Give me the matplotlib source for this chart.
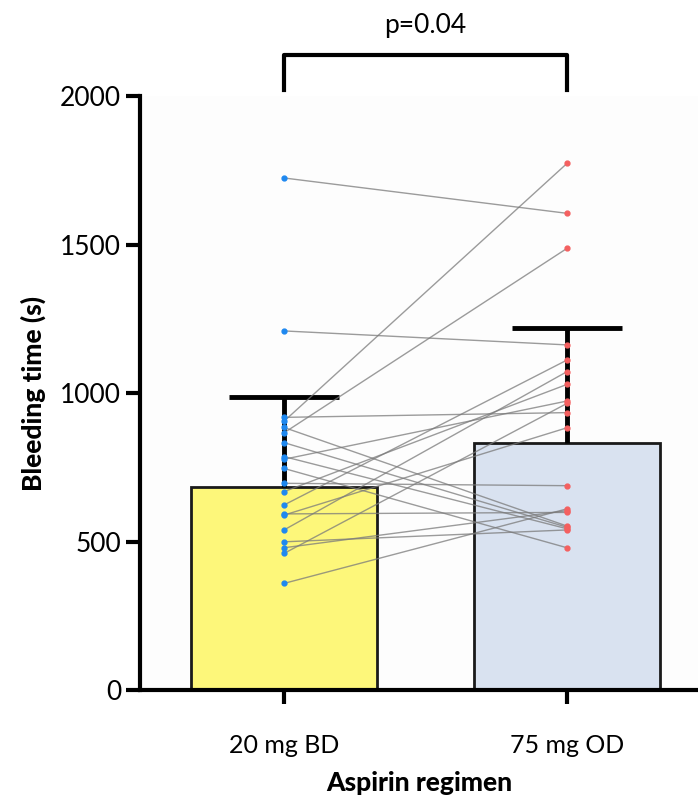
import numpy as np
import matplotlib.pyplot as plt

# veriler
gruplar = ["20 mg BD", "75 mg OD"]
ortalama = [683, 833]
ust_hata = [302, 387]

# eşleştirilmiş hasta değerleri (sol -> sağ)
doz_20 = [1724, 1209, 918, 905, 884, 866, 833, 786, 777, 746,
          696, 668, 623, 593, 589, 539, 499, 479, 460, 359]
doz_75 = [1605, 1162, 934, 1773, 552, 1487, 548, 543, 973, 479,
          688, 1029, 1111, 598, 883, 1072, 539, 604, 965, 610]

p_metni = "p=0.04"

plt.rcParams['font.family'] = ['Lato', 'DejaVu Sans']

fig = plt.figure(figsize=(6.98, 7.98), dpi=100)
ax = fig.add_axes([0.2006, 0.1353, 0.7994, 0.7444])
ax.set_facecolor("#fdfdfd")

x = np.arange(len(gruplar))
ax.bar(x, ortalama, width=0.66, color=["#fdf77a", "#d9e2f0"],
       edgecolor="#1a1a1a", linewidth=2, zorder=2)

# sadece yukarı hata çubukları
ust = np.array(ortalama) + np.array(ust_hata)
ax.vlines(x, ortalama, ust, color="black", linewidth=3.5, zorder=3)
ax.hlines(ust, x - 0.195, x + 0.195, color="black", linewidth=3.5, zorder=3)

for a, b in zip(doz_20, doz_75):
    ax.plot([0, 1], [a, b], color="#7a7a7a", linewidth=1.0, alpha=0.75, zorder=4)

ax.plot(np.zeros(len(doz_20)), doz_20, "o", color="#1e88f0", markersize=3.5, zorder=5)
ax.plot(np.ones(len(doz_75)), doz_75, "o", color="#f46060", markersize=3.5, zorder=5)

# anlamlılık parantezi
ax.plot([0, 0, 1, 1], [2020, 2138, 2138, 2020], color="black", linewidth=3,
        clip_on=False, zorder=6)
ax.text(0.5, 2195, p_metni, ha="center", va="bottom", fontsize=19)

ax.set_xlim(-0.509, 1.463)
ax.set_ylim(0, 2000)
ax.set_yticks([0, 500, 1000, 1500, 2000])
ax.set_xticks(x)
ax.set_xticklabels(gruplar)
ax.tick_params(axis="y", labelsize=19, width=3, length=10, direction="out")
ax.tick_params(axis="x", labelsize=18, width=3, length=10, direction="out", pad=22)

for s in ["top", "right"]:
    ax.spines[s].set_visible(False)
ax.spines["left"].set_linewidth(3)
ax.spines["bottom"].set_linewidth(3)

ax.set_ylabel("Bleeding time (s)", fontsize=19, fontweight="black", labelpad=10)
ax.set_xlabel("Aspirin regimen", fontsize=19, fontweight="black", labelpad=10)

plt.savefig("out.png", dpi=100)
